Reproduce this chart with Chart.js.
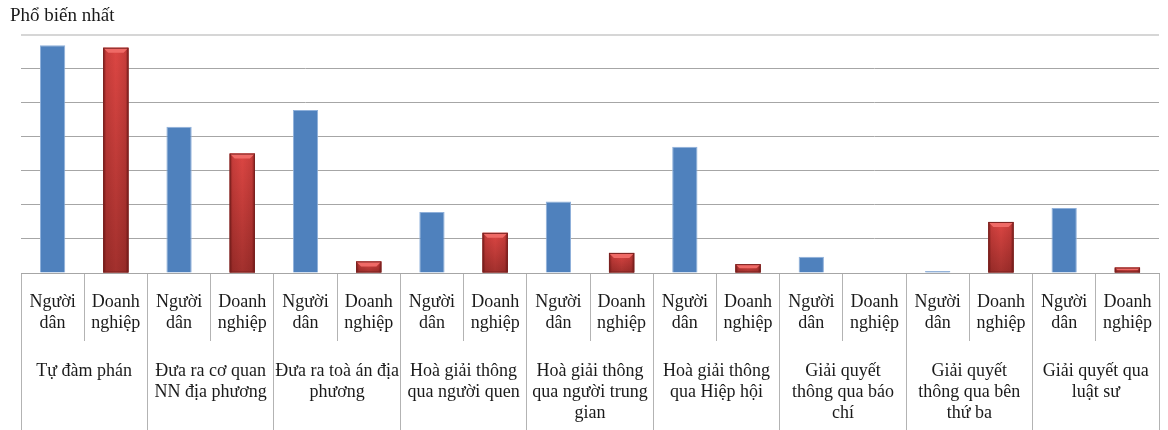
<!DOCTYPE html>
<html lang="vi">
<head>
<meta charset="utf-8">
<title>Phổ biến nhất</title>
<script src="https://cdn.jsdelivr.net/npm/chart.js@4.4.1/dist/chart.umd.min.js"></script>
<style>
  html, body { margin: 0; padding: 0; background: #ffffff; }
  #wrap { width: 1168px; height: 430px; }
</style>
</head>
<body>
<div id="wrap"><canvas id="chart" width="1168" height="430"></canvas></div>
<script>
// Dispute-resolution channels (outer axis) and the two respondent groups (inner axis)
const groups = [
  ['Tự đàm phán'],
  ['Đưa ra cơ quan', 'NN địa phương'],
  ['Đưa ra toà án địa', 'phương'],
  ['Hoà giải thông', 'qua người quen'],
  ['Hoà giải thông', 'qua người trung', 'gian'],
  ['Hoà giải thông', 'qua Hiệp hội'],
  ['Giải quyết', 'thông qua báo', 'chí'],
  ['Giải quyết', 'thông qua bên', 'thứ ba'],
  ['Giải quyết qua', 'luật sư']
];
const subLabels = [['Người', 'dân'], ['Doanh', 'nghiệp']];

// Share of respondents naming each channel as the most common (%)
const nguoiDan    = [66.9, 43.0, 47.9, 17.9, 21.0, 37.1, 4.8, 0.6, 19.1];
const doanhNghiep = [66.2, 35.1, 3.4, 11.8, 5.9, 2.6, 0, 15.0, 1.6];

// Value-axis range (labels are hidden, gridlines every step)
const yMax = 70;
const yStep = 10;

// Interleave the two series into one bar per (channel, group) slot
const labels = [];
const values = [];
const isBusiness = [];
groups.forEach((g, i) => {
  labels.push(subLabels[0]); values.push(nguoiDan[i]);    isBusiness.push(false);
  labels.push(subLabels[1]); values.push(doanhNghiep[i]); isBusiness.push(true);
});

const BLUE = '#4f81bd';
const RED = '#c0504d';
const FONT = "'Liberation Serif', 'Times New Roman', serif";

// Bevelled look for the business bars, drawn from each bar element's geometry
const bevelPlugin = {
  id: 'bevel',
  afterDatasetsDraw(chart) {
    const ctx = chart.ctx;
    const meta = chart.getDatasetMeta(0);
    meta.data.forEach((bar, i) => {
      if (!isBusiness[i]) return;
      const p = bar.getProps(['x', 'y', 'width', 'base'], true);
      const h = p.base - p.y;
      if (h < 0.5) return;
      const l = p.x - p.width / 2, r = p.x + p.width / 2, t = p.y, b = p.base;
      ctx.save();
      // body: brighter at top, deeper at the base
      let g = ctx.createLinearGradient(0, t, 0, b);
      g.addColorStop(0, '#dc4643');
      g.addColorStop(1, '#a2302d');
      ctx.fillStyle = g;
      ctx.fillRect(l, t, r - l, h);
      // darker rounded sides
      g = ctx.createLinearGradient(l, 0, r, 0);
      g.addColorStop(0, 'rgba(60,0,0,0.55)');
      g.addColorStop(0.12, 'rgba(60,0,0,0.12)');
      g.addColorStop(0.5, 'rgba(60,0,0,0)');
      g.addColorStop(0.88, 'rgba(60,0,0,0.12)');
      g.addColorStop(1, 'rgba(60,0,0,0.55)');
      ctx.fillStyle = g;
      ctx.fillRect(l, t, r - l, h);
      // lit top bevel
      const bv = Math.min(5, h / 2);
      ctx.beginPath();
      ctx.moveTo(l, t);
      ctx.lineTo(r, t);
      ctx.lineTo(r - bv, t + bv);
      ctx.lineTo(l + bv, t + bv);
      ctx.closePath();
      ctx.fillStyle = '#ef6a66';
      ctx.fill();
      // outline
      ctx.strokeStyle = '#7a2220';
      ctx.lineWidth = 1;
      ctx.strokeRect(l + 0.5, t + 0.5, r - l - 1, h - 1);
      ctx.restore();
    });
  }
};

new Chart(document.getElementById('chart'), {
  type: 'bar',
  data: {
    labels: labels,
    datasets: [{
      data: values,
      xAxisID: 'x',
      backgroundColor: isBusiness.map(b => b ? RED : BLUE),
      borderColor: isBusiness.map(b => b ? RED : '#8fb0da'),
      borderWidth: 1,
      barPercentage: 0.4,
      categoryPercentage: 1.0
    }]
  },
  options: {
    responsive: false,
    animation: false,
    events: [],
    layout: { padding: { left: 10, right: 9, top: 0, bottom: 0 } },
    plugins: {
      legend: { display: false },
      tooltip: { enabled: false },
      title: {
        display: true,
        text: 'Phổ biến nhất',
        align: 'start',
        color: '#1a1a1a',
        font: { family: FONT, size: 19, weight: 'normal', lineHeight: 1.2 },
        padding: { top: 5, bottom: 7 }
      }
    },
    scales: {
      x: {
        type: 'category',
        position: 'bottom',
        offset: true,
        grid: {
          offset: true,
          drawOnChartArea: false,
          drawTicks: true,
          tickLength: 68,
          color: '#b3b3b3',
          lineWidth: 1
        },
        border: { display: true, color: '#a6a6a6', width: 1 },
        ticks: {
          autoSkip: false,
          maxRotation: 0,
          minRotation: 0,
          padding: -49,
          color: '#1a1a1a',
          font: { family: FONT, size: 18, lineHeight: '21px' }
        },
        afterFit(scale) { scale.height = 68; }
      },
      x2: {
        type: 'category',
        position: 'bottom',
        labels: groups,
        offset: true,
        grid: {
          offset: true,
          drawOnChartArea: false,
          drawTicks: true,
          tickLength: 89,
          color: '#b3b3b3',
          lineWidth: 1
        },
        border: { display: false },
        ticks: {
          autoSkip: false,
          maxRotation: 0,
          minRotation: 0,
          padding: -69,
          color: '#1a1a1a',
          font: { family: FONT, size: 18, lineHeight: '21px' }
        },
        afterFit(scale) { scale.height = 89; }
      },
      y: {
        min: 0,
        max: yMax,
        ticks: { stepSize: yStep, display: false },
        border: { display: false },
        grid: {
          drawTicks: false,
          color: ctx => (ctx.tick && ctx.tick.value === yMax) ? '#d6d6d6' : '#a6a6a6',
          lineWidth: ctx => (ctx.tick && ctx.tick.value === yMax) ? 2 : 1
        },
        afterFit(scale) { scale.width = 11; }
      }
    }
  },
  plugins: [bevelPlugin]
});
</script>
</body>
</html>
